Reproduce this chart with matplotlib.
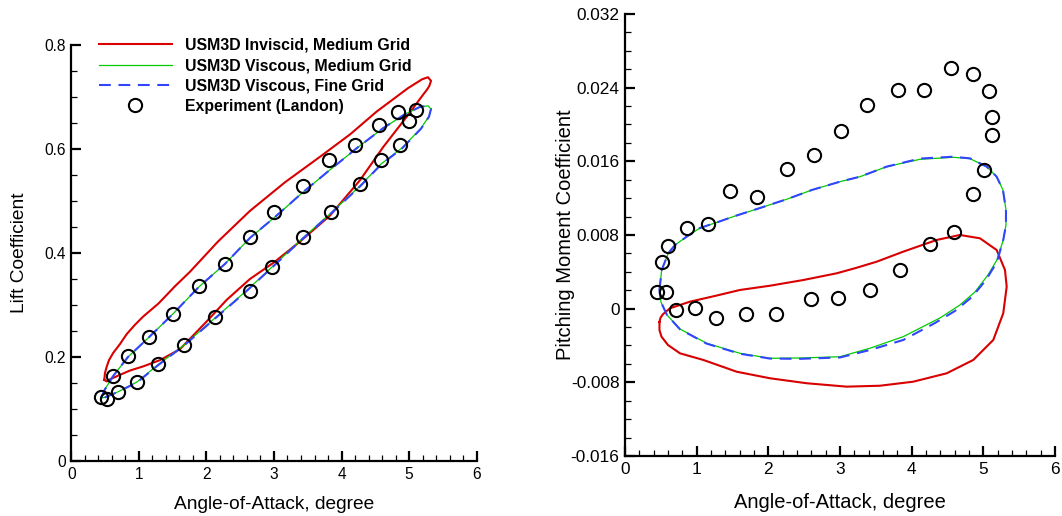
import matplotlib
matplotlib.use("Agg")
import matplotlib.pyplot as plt
from matplotlib.ticker import MultipleLocator, FuncFormatter
from matplotlib.lines import Line2D

plt.rcParams['font.family'] = ['Liberation Sans', 'DejaVu Sans']
plt.rcParams['lines.scale_dashes'] = False

# ---------------- Lift coefficient data ----------------
cl_inv_alpha = [0.486, 0.496, 0.521, 0.556, 0.619, 0.719, 0.818, 0.941, 1.064, 1.290,
                1.533, 1.756, 2.170, 2.644, 3.163, 3.681, 4.126, 4.521, 4.985, 5.193,
                5.281, 5.326, 5.300, 5.260, 5.212, 4.966, 4.619, 4.274, 3.830, 3.385,
                3.000, 2.644, 2.300, 2.000, 1.607, 1.311, 1.064, 0.867, 0.689, 0.570,
                0.521, 0.486]
cl_inv = [0.156, 0.169, 0.181, 0.194, 0.208, 0.225, 0.244, 0.262, 0.278, 0.303,
          0.336, 0.364, 0.422, 0.481, 0.536, 0.585, 0.628, 0.672, 0.717, 0.734,
          0.738, 0.731, 0.721, 0.713, 0.705, 0.662, 0.604, 0.540, 0.472, 0.422,
          0.382, 0.350, 0.310, 0.268, 0.215, 0.194, 0.182, 0.174, 0.164, 0.157,
          0.153, 0.156]

cl_visc_alpha = [0.437, 0.496, 0.615, 0.837, 1.148, 1.504, 1.889, 2.274, 2.644, 3.030,
                 3.430, 3.830, 4.230, 4.615, 4.941, 5.163, 5.281, 5.326, 5.296, 5.178,
                 4.896, 4.585, 4.274, 3.844, 3.430, 2.970, 2.570, 2.126, 1.667, 1.281,
                 0.970, 0.689, 0.511, 0.437]
cl_visc_med = [0.121, 0.138, 0.163, 0.200, 0.238, 0.283, 0.335, 0.379, 0.429, 0.471,
               0.517, 0.560, 0.602, 0.640, 0.667, 0.681, 0.683, 0.677, 0.663, 0.640,
               0.602, 0.571, 0.529, 0.477, 0.429, 0.373, 0.325, 0.275, 0.223, 0.185,
               0.152, 0.133, 0.123, 0.121]
cl_visc_fine = [0.121, 0.138, 0.163, 0.200, 0.238, 0.283, 0.335, 0.379, 0.429, 0.471,
                0.517, 0.560, 0.602, 0.640, 0.667, 0.681, 0.683, 0.677, 0.662, 0.639,
                0.601, 0.570, 0.528, 0.476, 0.428, 0.372, 0.324, 0.274, 0.222, 0.184,
                0.151, 0.133, 0.123, 0.121]

cl_exp_alpha = [0.437, 0.619, 0.837, 1.144, 1.499, 1.889, 2.270, 2.644, 3.004, 3.425,
                3.815, 4.200, 4.551, 4.833, 5.108, 5.004, 4.862, 4.581, 4.270, 3.844,
                3.425, 2.966, 2.644, 2.121, 1.667, 1.281, 0.966, 0.693, 0.521]
cl_exp = [0.124, 0.163, 0.201, 0.238, 0.283, 0.336, 0.378, 0.431, 0.479, 0.529,
          0.578, 0.608, 0.646, 0.672, 0.675, 0.653, 0.608, 0.578, 0.532, 0.479,
          0.431, 0.374, 0.326, 0.276, 0.223, 0.186, 0.151, 0.132, 0.120]

# ---------------- Pitching moment data ----------------
cm_inv_alpha = [0.481, 0.495, 0.530, 0.628, 0.907, 1.256, 1.605, 2.023, 2.488, 2.954,
                3.223, 3.512, 3.883, 4.349, 4.674, 4.953, 5.186, 5.302, 5.326, 5.278,
                5.139, 4.860, 4.489, 4.023, 3.558, 3.093, 2.535, 2.023, 1.559, 1.093,
                0.767, 0.600, 0.509, 0.481, 0.481]
cm_inv = [-0.00145, -0.00100, -0.00060, 0.00004, 0.00076, 0.00138, 0.00203, 0.00249, 0.00311, 0.00384,
          0.00442, 0.00510, 0.00619, 0.00746, 0.00800, 0.00764, 0.00637, 0.00420, 0.00239, -0.00050,
          -0.00340, -0.00557, -0.00702, -0.00793, -0.00837, -0.00847, -0.00810, -0.00756, -0.00685, -0.00557,
          -0.00485, -0.00395, -0.00304, -0.00232, -0.00145]

cm_visc_alpha = [0.481, 0.512, 0.604, 0.698, 0.861, 1.046, 1.298, 1.535, 1.884, 2.256,
                 2.609, 3.000, 3.279, 3.651, 4.116, 4.581, 4.814, 5.047, 5.186, 5.274,
                 5.316, 5.316, 5.278, 5.190, 5.065, 4.883, 4.674, 4.395, 3.883, 3.418,
                 3.000, 2.442, 2.023, 1.605, 1.140, 0.767, 0.586, 0.502, 0.481]
cm_visc_med = [0.00203, 0.00420, 0.00601, 0.00691, 0.00782, 0.00876, 0.00941, 0.01006, 0.01093, 0.01188,
               0.01289, 0.01379, 0.01433, 0.01542, 0.01622, 0.01644, 0.01629, 0.01542, 0.01433, 0.01289,
               0.01072, 0.00909, 0.00746, 0.00529, 0.00366, 0.00181, 0.00040, -0.00101, -0.00304, -0.00430,
               -0.00522, -0.00536, -0.00539, -0.00485, -0.00376, -0.00221, -0.00069, 0.00072, 0.00203]
cm_visc_fine_alpha = [0.481, 0.512, 0.604, 0.698, 0.861, 1.046, 1.298, 1.535, 1.884, 2.256,
                      2.609, 3.000, 3.279, 3.651, 4.116, 4.581, 4.814, 5.047, 5.186, 5.274,
                      5.316, 5.316, 5.278, 5.190, 5.037, 4.842, 4.604, 4.325, 3.883, 3.418,
                      3.000, 2.442, 2.023, 1.605, 1.140, 0.767, 0.586, 0.502, 0.481]
cm_visc_fine = [0.00203, 0.00420, 0.00601, 0.00691, 0.00782, 0.00876, 0.00941, 0.01006, 0.01093, 0.01188,
                0.01289, 0.01379, 0.01433, 0.01542, 0.01630, 0.01650, 0.01632, 0.01542, 0.01433, 0.01289,
                0.01072, 0.00909, 0.00746, 0.00507, 0.00311, 0.00127, -0.00025, -0.00156, -0.00340, -0.00449,
                -0.00530, -0.00545, -0.00542, -0.00490, -0.00380, -0.00224, -0.00069, 0.00072, 0.00203]

cm_exp_alpha = [0.451, 0.568, 0.712, 0.981, 1.274, 1.688, 2.107, 2.591, 2.976, 3.423,
                3.841, 4.256, 4.595, 4.856, 5.005, 5.121, 5.125, 5.079, 4.856, 4.549,
                4.172, 3.805, 3.381, 3.010, 2.633, 2.260, 1.842, 1.469, 1.162, 0.865,
                0.604, 0.523]
cm_exp = [0.00181, 0.00181, -0.00014, 0.00011, -0.00098, -0.00055, -0.00055, 0.00102, 0.00119, 0.00206,
          0.00423, 0.00702, 0.00833, 0.01242, 0.01503, 0.01889, 0.02081, 0.02361, 0.02552, 0.02617,
          0.02378, 0.02378, 0.02209, 0.01929, 0.01669, 0.01517, 0.01216, 0.01278, 0.00914, 0.00871,
          0.00675, 0.00512]

legend_labels = ["USM3D Inviscid, Medium Grid", "USM3D Viscous, Medium Grid",
                 "USM3D Viscous, Fine Grid", "Experiment (Landon)"]

RED = '#d80000'
GREEN = '#00cc00'
BLUE = '#3344ff'
DASH = (8.5, 5.5)


def fmt(v, pos):
    return f'{round(v, 6) + 0:g}'


def style_axes(ax, tick_fs):
    for s in ['top', 'right']:
        ax.spines[s].set_visible(False)
    for s in ['left', 'bottom']:
        ax.spines[s].set_linewidth(1.6)
        ax.spines[s].set_color('black')
    ax.tick_params(which='major', direction='in', length=7, width=1.6,
                   labelsize=tick_fs, pad=4, colors='black')
    ax.tick_params(which='minor', direction='in', length=4, width=0.9)
    ax.xaxis.set_major_formatter(FuncFormatter(fmt))
    ax.yaxis.set_major_formatter(FuncFormatter(fmt))


fig = plt.figure(figsize=(10.62, 5.16), dpi=100)

# ---------------- Left panel ----------------
ax1 = fig.add_axes([0.0673, 0.1066, 0.3814, 0.8062])
ax1.plot(cl_inv_alpha, cl_inv, color=RED, lw=1.5, zorder=2, solid_joinstyle='round')
ax1.plot(cl_visc_alpha, cl_visc_med, color=GREEN, lw=0.9, zorder=3)
ax1.plot(cl_visc_alpha, cl_visc_fine, color=BLUE, lw=1.5, dashes=DASH, zorder=4)
ax1.plot(cl_exp_alpha, cl_exp, linestyle='none', marker='o', ms=9.5, mfc='none',
         mec='black', mew=1.5, zorder=5)
ax1.set_xlim(0, 6)
ax1.set_ylim(0, 0.8)
ax1.xaxis.set_major_locator(MultipleLocator(1))
ax1.xaxis.set_minor_locator(MultipleLocator(0.2))
ax1.yaxis.set_major_locator(MultipleLocator(0.2))
ax1.yaxis.set_minor_locator(MultipleLocator(0.05))
style_axes(ax1, 11.2)
ax1.set_xlabel('Angle-of-Attack, degree', fontsize=13.8, labelpad=10.4)
ax1.set_ylabel('Lift Coefficient', fontsize=13.8, labelpad=12)

handles = [Line2D([], [], color=RED, lw=1.5),
           Line2D([], [], color=GREEN, lw=0.9),
           Line2D([], [], color=BLUE, lw=1.5, dashes=DASH),
           Line2D([], [], linestyle='none', marker='o', ms=9.5, mfc='none', mec='black', mew=1.5)]
ax1.legend(handles, legend_labels, loc='upper left', bbox_to_anchor=(0.068, 1.017),
           frameon=False, handlelength=4.6, handletextpad=0.8, labelspacing=0.33,
           borderpad=0, borderaxespad=0, prop={'weight': 'bold', 'size': 11.4})

# ---------------- Right panel ----------------
ax2 = fig.add_axes([0.5885, 0.1163, 0.4049, 0.8566])
ax2.plot(cm_inv_alpha, cm_inv, color=RED, lw=1.5, zorder=2, solid_joinstyle='round')
ax2.plot(cm_visc_alpha, cm_visc_med, color=GREEN, lw=0.9, zorder=3)
ax2.plot(cm_visc_fine_alpha, cm_visc_fine, color=BLUE, lw=1.5, dashes=DASH, zorder=4)
ax2.plot(cm_exp_alpha, cm_exp, linestyle='none', marker='o', ms=9.5, mfc='none',
         mec='black', mew=1.5, zorder=5)
ax2.set_xlim(0, 6)
ax2.set_ylim(-0.016, 0.032)
ax2.xaxis.set_major_locator(MultipleLocator(1))
ax2.xaxis.set_minor_locator(MultipleLocator(0.2))
ax2.yaxis.set_major_locator(MultipleLocator(0.008))
ax2.yaxis.set_minor_locator(MultipleLocator(0.002))
style_axes(ax2, 12.4)
ax2.set_xlabel('Angle-of-Attack, degree', fontsize=14.5, labelpad=11.6)
ax2.set_ylabel('Pitching Moment Coefficient', fontsize=14.5, labelpad=-3.3)

fig.savefig('out.png', dpi=100)
